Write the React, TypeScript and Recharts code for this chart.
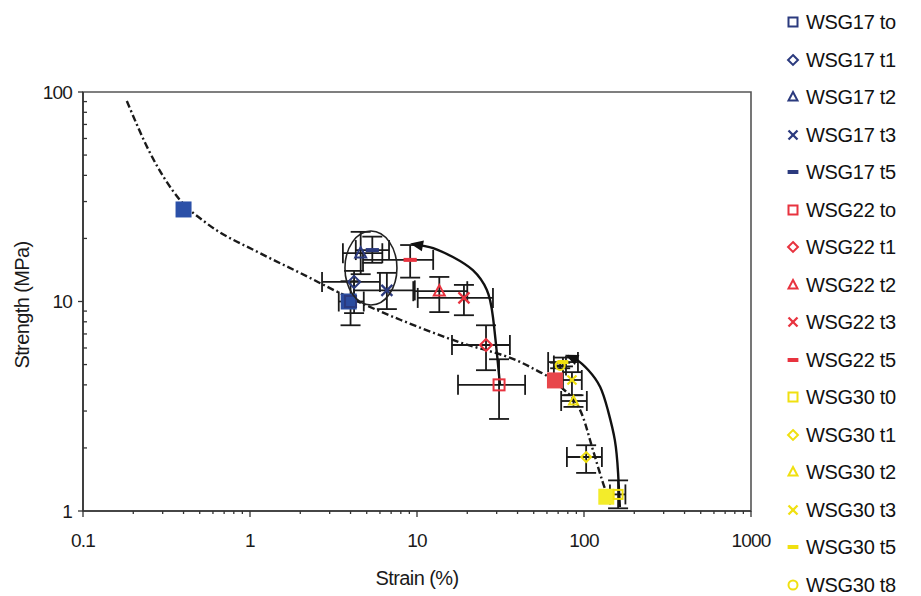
import React from 'react';
import { ComposedChart, Scatter, Line, XAxis, YAxis, ErrorBar, ReferenceArea, ReferenceDot, Cell } from 'recharts';

// ---- axis ticks ----
const xMajorTicks = [0.1, 1, 10, 100, 1000];
const xMinorTicks = [0.2, 0.3, 0.4, 0.5, 0.6, 0.7, 0.8, 0.9, 2, 3, 4, 5, 6, 7, 8, 9, 20, 30, 40, 50, 60, 70, 80, 90, 200, 300, 400, 500, 600, 700, 800, 900];
const yMajorTicks = [1, 10, 100];
const yMinorTicks = [2, 3, 4, 5, 6, 7, 8, 9, 20, 30, 40, 50, 60, 70, 80, 90];

// ---- series labels ----
const wsg17Labels = ['WSG17 to', 'WSG17 t1', 'WSG17 t2', 'WSG17 t3', 'WSG17 t5'];
const wsg22Labels = ['WSG22 to', 'WSG22 t1', 'WSG22 t2', 'WSG22 t3', 'WSG22 t5'];
const wsg30Labels = ['WSG30 t0', 'WSG30 t1', 'WSG30 t2', 'WSG30 t3', 'WSG30 t5', 'WSG30 t8'];

// ---- WSG17 ----
const wsg17Strain = [4.0, 4.2, 4.6, 6.6, 5.4];
const wsg17Strength = [10.0, 12.4, 17.0, 11.3, 17.6];
const wsg17StrainRange = [[3.4, 4.8], [2.7, 6.0], [3.6, 6.2], [4.2, 9.7], [4.3, 6.8]];
const wsg17StrengthRange = [[7.7, 12.5], [8.8, 14.0], [13.5, 21.5], [9.2, 13.7], [15.3, 20.4]];

// ---- WSG22 ----
const wsg22Strain = [31, 25.9, 13.6, 19.1, 9.1];
const wsg22Strength = [4.0, 6.2, 11.2, 10.4, 15.8];
const wsg22StrainRange = [[17.6, 44.4], [16.2, 36], [9.5, 20], [10.1, 28.5], [4.75, 12.5]];
const wsg22StrengthRange = [[2.75, 5.3], [4.7, 7.7], [8.9, 13.1], [8.6, 12.0], [13.0, 18.6]];

// ---- WSG30 ----
const wsg30Strain = [160, 103, 86.5, 84.7, 74.8, 72];
const wsg30Strength = [1.2, 1.81, 3.35, 4.22, 5.14, 4.95];
const wsg30StrainRange = [[143, 177], [79, 128], [73, 104], [74.8, 97], [61, 92], [66, 78]];
const wsg30StrengthRange = [[1.03, 1.4], [1.52, 2.06], [3.14, 3.57], [3.57, 4.6], [4.9, 5.4], [4.8, 5.1]];

// ---- filled reference squares ----
const refStrain = [0.4, 3.9, 67, 136];
const refStrength = [27.5, 10.0, 4.2, 1.17];

// ---- fitted dash-dot curve ----
const fitStrain = [0.183, 0.252, 0.381, 0.551, 1.15, 1.99, 3.97, 8.0, 16.4, 47.5, 71.8, 98.6, 113, 130, 143];
const fitStrength = [90.6, 51.2, 30.5, 23.6, 17.0, 13.7, 10.4, 8.16, 6.55, 4.87, 3.95, 2.81, 1.96, 1.36, 1.09];

// ---- annotation arrows ----
const arrow1Strain = [31.4, 30.5, 28.5, 26.2, 21.6, 16.4, 12.5, 9.47];
const arrow1Strength = [4.0, 5.09, 8.43, 11.35, 14.1, 16.3, 18.0, 18.8];
const arrow2Strain = [164, 160, 153, 139, 125, 106, 90.8, 80.2];
const arrow2Strength = [1.045, 1.52, 2.18, 3.03, 3.91, 4.71, 5.26, 5.5];

// ---- ellipse annotation centre ----
const ellipseCentre = { x: 5.3, y: 14.45 };

// styles
const markerKinds = ['square', 'diamond', 'triangle', 'x', 'dash', 'circle'];
const C17 = '#2b3a7e';
const C22 = '#e8333f';
const C30 = '#f0e010';
const refColors = ['#2b50a8', '#2b4c9f', '#e8464a', '#f3ec2a'];
const FONT = '"Liberation Sans", Arial, sans-serif';

const buildPoints = (strain: number[], strength: number[], sr: number[][], yr: number[][]) =>
  strain.map((x, i) => ({
    x,
    y: strength[i],
    ex: [x - sr[i][0], sr[i][1] - x],
    ey: [strength[i] - yr[i][0], yr[i][1] - strength[i]],
  }));

const toXY = (xs: number[], ys: number[]) => xs.map((x, i) => ({ x, y: ys[i] }));

const groups = [
  { labels: wsg17Labels, color: C17, points: buildPoints(wsg17Strain, wsg17Strength, wsg17StrainRange, wsg17StrengthRange) },
  { labels: wsg22Labels, color: C22, points: buildPoints(wsg22Strain, wsg22Strength, wsg22StrainRange, wsg22StrengthRange) },
  { labels: wsg30Labels, color: C30, points: buildPoints(wsg30Strain, wsg30Strength, wsg30StrainRange, wsg30StrengthRange) },
];

function Marker({ kind, cx, cy, color, s }: { kind: string; cx: number; cy: number; color: string; s: number }) {
  const sw = 2;
  switch (kind) {
    case 'square':
      return <rect x={cx - s / 2} y={cy - s / 2} width={s} height={s} fill="none" stroke={color} strokeWidth={sw} />;
    case 'diamond': {
      const h = s * 0.55;
      return <polygon points={`${cx},${cy - h} ${cx + h},${cy} ${cx},${cy + h} ${cx - h},${cy}`} fill="none" stroke={color} strokeWidth={sw} />;
    }
    case 'triangle':
      return <polygon points={`${cx},${cy - s * 0.55} ${cx + s / 2},${cy + s * 0.4} ${cx - s / 2},${cy + s * 0.4}`} fill="none" stroke={color} strokeWidth={sw} />;
    case 'x': {
      const h = s / 2;
      return (
        <g stroke={color} strokeWidth={sw + 0.3}>
          <line x1={cx - h} y1={cy - h} x2={cx + h} y2={cy + h} />
          <line x1={cx - h} y1={cy + h} x2={cx + h} y2={cy - h} />
        </g>
      );
    }
    case 'dash':
      return <rect x={cx - s * 0.6} y={cy - 2} width={s * 1.2} height={4} fill={color} />;
    default:
      return <circle cx={cx} cy={cy} r={s / 2} fill="none" stroke={color} strokeWidth={sw} />;
  }
}

const XTick = (props: any) => {
  const { x, y, payload } = props;
  const v = payload.value;
  const major = xMajorTicks.includes(v);
  return (
    <g>
      <line x1={x} y1={y} x2={x} y2={y + (major ? 6 : 3)} stroke="#333" strokeWidth={1.3} />
      {major && (
        <text x={x} y={y + 36} textAnchor="middle" fontSize={19} fontFamily={FONT} fill="#1a1a1a" letterSpacing={-0.8}>
          {String(v)}
        </text>
      )}
    </g>
  );
};

const YTick = (props: any) => {
  const { x, y, payload } = props;
  const v = payload.value;
  const major = yMajorTicks.includes(v);
  return (
    <g>
      {major ? (
        <line x1={x - 5} y1={y} x2={x} y2={y} stroke="#333" strokeWidth={1.3} />
      ) : (
        <line x1={x} y1={y} x2={x + 4} y2={y} stroke="#333" strokeWidth={1.3} />
      )}
      {major && (
        <text x={x - 11} y={y + 6.5} textAnchor="end" fontSize={19} fontFamily={FONT} fill="#1a1a1a" letterSpacing={-0.8}>
          {String(v)}
        </text>
      )}
    </g>
  );
};

const makeArrowDot = (lastIndex: number, angle: number) => (p: any) =>
  p.index === lastIndex ? (
    <polygon
      key={`ah-${p.index}`}
      transform={`translate(${p.cx},${p.cy}) rotate(${angle})`}
      points="3,0 -10,-5.5 -10,5.5"
      fill="#111"
    />
  ) : (
    <g key={`ah-${p.index}`} />
  );

const legendRows = [
  ...wsg17Labels.map((l, i) => ({ label: l, color: C17, kind: markerKinds[i] })),
  ...wsg22Labels.map((l, i) => ({ label: l, color: C22, kind: markerKinds[i] })),
  ...wsg30Labels.map((l, i) => ({ label: l, color: C30, kind: markerKinds[i] })),
];

export default function App() {
  const fitCurve = toXY(fitStrain, fitStrength);
  const refSquares = toXY(refStrain, refStrength);
  const arrow1 = toXY(arrow1Strain, arrow1Strength);
  const arrow2 = toXY(arrow2Strain, arrow2Strength);
  const allXTicks = [...xMajorTicks, ...xMinorTicks].sort((a, b) => a - b);
  const allYTicks = [...yMajorTicks, ...yMinorTicks].sort((a, b) => a - b);

  return (
    <div style={{ position: 'absolute', left: 0, top: 0, width: 921, height: 596, background: '#fff' }}>
      <ComposedChart width={921} height={596} margin={{ top: 92, right: 170, bottom: 35, left: 23 }}>
        <XAxis
          dataKey="x"
          type="number"
          scale="log"
          domain={[0.1, 1000]}
          allowDataOverflow
          ticks={allXTicks}
          interval={0}
          tickLine={false}
          tickSize={0}
          tickMargin={0}
          tick={<XTick />}
          height={50}
          axisLine={{ stroke: '#333', strokeWidth: 1.6 }}
          label={{
            content: (p: any) => (
              <text
                x={p.viewBox.x + p.viewBox.width / 2}
                y={p.viewBox.y + 74}
                textAnchor="middle"
                fontSize={20}
                fontFamily={FONT}
                fill="#1a1a1a"
                letterSpacing={-0.6}
              >
                Strain (%)
              </text>
            ),
          }}
        />
        <YAxis
          dataKey="y"
          type="number"
          scale="log"
          domain={[1, 100]}
          allowDataOverflow
          ticks={allYTicks}
          interval={0}
          tickLine={false}
          tickSize={0}
          tickMargin={0}
          tick={<YTick />}
          width={60}
          axisLine={{ stroke: '#333', strokeWidth: 1.6 }}
          label={{
            content: (p: any) => {
              const cx = p.viewBox.x + 6;
              const cy = p.viewBox.y + 213;
              return (
                <text
                  x={cx}
                  y={cy}
                  transform={`rotate(-90 ${cx} ${cy})`}
                  textAnchor="middle"
                  fontSize={20}
                  fontFamily={FONT}
                  fill="#1a1a1a"
                  letterSpacing={-0.6}
                >
                  Strength (MPa)
                </text>
              );
            },
          }}
        />
        <ReferenceArea x1={0.1} x2={1000} y1={1} y2={100} fill="none" stroke="#555" strokeWidth={1.6} />
        <Line
          data={fitCurve}
          dataKey="y"
          type="monotone"
          stroke="#1a1a1a"
          strokeWidth={2.4}
          strokeDasharray="7 3 2 3"
          dot={false}
          activeDot={false}
          isAnimationActive={false}
          legendType="none"
        />
        <Scatter
          data={refSquares}
          isAnimationActive={false}
          legendType="none"
          shape={(p: any) => (
            <rect x={p.cx - 8} y={p.cy - 8} width={16} height={16} fill={p.fill} />
          )}
        >
          {refSquares.map((_, i) => (
            <Cell key={i} fill={refColors[i]} />
          ))}
        </Scatter>
        {groups.map((g) =>
          g.points.map((pt, i) => (
            <Scatter
              key={g.labels[i]}
              name={g.labels[i]}
              data={[pt]}
              isAnimationActive={false}
              shape={(p: any) => <Marker kind={markerKinds[i]} cx={p.cx} cy={p.cy} color={g.color} s={g.color === C30 ? 9 : 11} />}
            >
              <ErrorBar dataKey="ex" direction="x" width={10} stroke="#1a1a1a" strokeWidth={1.8} />
              <ErrorBar dataKey="ey" direction="y" width={10} stroke="#1a1a1a" strokeWidth={1.8} />
            </Scatter>
          ))
        )}
        <Line
          data={arrow1}
          dataKey="y"
          type="natural"
          stroke="#111"
          strokeWidth={2.4}
          dot={makeArrowDot(arrow1.length - 1, 191)}
          activeDot={false}
          isAnimationActive={false}
          legendType="none"
        />
        <Line
          data={arrow2}
          dataKey="y"
          type="natural"
          stroke="#111"
          strokeWidth={2.4}
          dot={makeArrowDot(arrow2.length - 1, 204)}
          activeDot={false}
          isAnimationActive={false}
          legendType="none"
        />
        <ReferenceDot
          x={ellipseCentre.x}
          y={ellipseCentre.y}
          ifOverflow="visible"
          shape={(p: any) => <ellipse cx={p.cx} cy={p.cy} rx={26} ry={37} fill="none" stroke="#222" strokeWidth={1.6} />}
        />
      </ComposedChart>
      <div style={{ position: 'absolute', left: 0, top: 0 }}>
        {legendRows.map((r, i) => (
          <div
            key={r.label}
            style={{
              position: 'absolute',
              left: 786,
              top: 22 + i * 37.5 - 13,
              height: 26,
              display: 'flex',
              alignItems: 'center',
              whiteSpace: 'nowrap',
            }}
          >
            <svg width={14} height={14} style={{ display: 'block' }}>
              <Marker kind={r.kind} cx={7} cy={7} color={r.color} s={9} />
            </svg>
            <span
              style={{
                marginLeft: 6,
                fontFamily: FONT,
                fontSize: 20,
                color: '#111',
                letterSpacing: -0.3,
                lineHeight: '26px',
              }}
            >
              {r.label}
            </span>
          </div>
        ))}
      </div>
    </div>
  );
}
